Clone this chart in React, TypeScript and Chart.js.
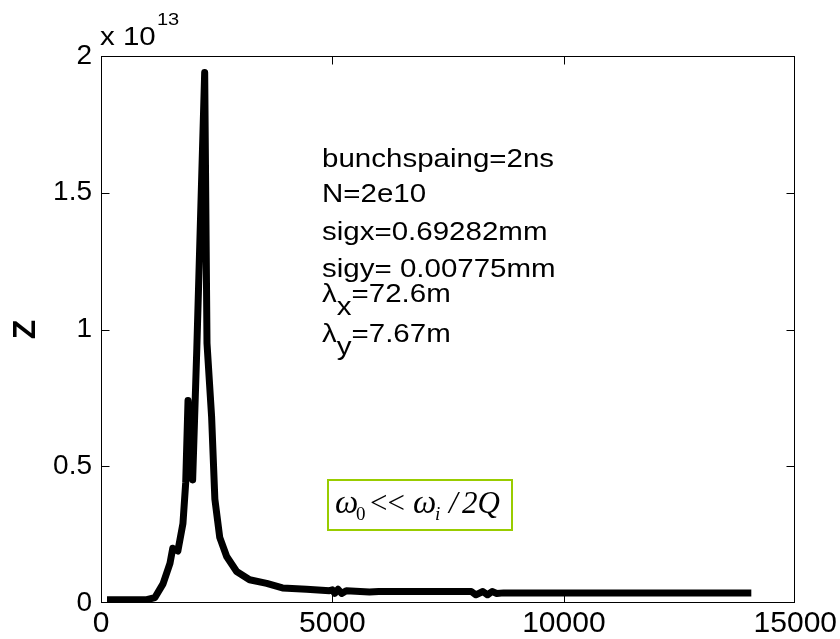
import React, { useEffect, useRef } from "react";
import { Chart, registerables } from "chart.js";

Chart.register(...registerables);

// x values (frequency-like index) and Z values in units of 1e13
const xValues = [
  130, 990, 1165, 1340, 1490, 1550, 1660, 1770, 1830, 1880, 1930, 1980, 2070, 2240, 2290, 2390,
  2460, 2565, 2715, 2930, 3210, 3580, 3920, 4440, 4935, 5000, 5050, 5120, 5200, 5300, 5800,
  6000, 8000, 8100, 8250, 8350, 8450, 8550, 8700, 14050,
];
const zValues = [
  0.012, 0.012, 0.02, 0.07, 0.145, 0.2, 0.19, 0.29, 0.44, 0.74, 0.6, 0.45, 0.93, 1.94, 0.95, 0.68,
  0.38, 0.24, 0.17, 0.115, 0.085, 0.072, 0.055, 0.05, 0.045, 0.048, 0.035, 0.05, 0.035, 0.045, 0.04,
  0.042, 0.042, 0.03, 0.042, 0.03, 0.042, 0.035, 0.037, 0.037,
];
const xTickValues = [0, 5000, 10000, 15000];
const xTickLabels = ["0", "5000", "10000", "15000"];
const yTickValues = [0, 0.5, 1, 1.5, 2];
const yTickLabels = ["0", "0.5", "1", "1.5", "2"];
const exponentBase = "x 10";
const exponentPower = "13";
const yTitle = "Z";
const infoLines = [
  { pre: "bunchspaing=2ns", sub: "", post: "" },
  { pre: "N=2e10", sub: "", post: "" },
  { pre: "sigx=0.69282mm", sub: "", post: "" },
  { pre: "sigy= 0.00775mm", sub: "", post: "" },
  { pre: "λ", sub: "x", post: "=72.6m" },
  { pre: "λ", sub: "y", post: "=7.67m" },
];
const infoBaselines = [167, 202, 240, 277, 302, 342];

const SANS = '"Liberation Sans", Arial, Helvetica, sans-serif';
const SERIF = '"Liberation Serif", "Times New Roman", serif';

const decorPlugin = {
  id: "decor",
  afterDatasetsDraw(chart: any) {
    const { ctx, chartArea: a, scales } = chart;
    ctx.save();
    ctx.strokeStyle = "#000";
    ctx.lineWidth = 1;
    const L = Math.round(a.left) + 0.5;
    const T = Math.round(a.top) + 0.5;
    const R = Math.round(a.right) - 0.5;
    const B = Math.round(a.bottom) - 0.5;
    ctx.strokeRect(L, T, R - L, B - T);
    const tl = 8;
    ctx.beginPath();
    for (const v of xTickValues) {
      const px = Math.round(scales.x.getPixelForValue(v)) + 0.5;
      if (v === 0 || v === 15000) continue;
      ctx.moveTo(px, B);
      ctx.lineTo(px, B - tl);
      ctx.moveTo(px, T);
      ctx.lineTo(px, T + tl);
    }
    for (const v of yTickValues) {
      const py = Math.round(scales.y.getPixelForValue(v)) + 0.5;
      if (v === 0 || v === 2) continue;
      ctx.moveTo(L, py);
      ctx.lineTo(L + tl, py);
      ctx.moveTo(R, py);
      ctx.lineTo(R - tl, py);
    }
    ctx.stroke();
    ctx.restore();
  },
  afterDraw(chart: any) {
    const { ctx, chartArea: a } = chart;
    ctx.save();
    ctx.fillStyle = "#000";

    // y title
    ctx.save();
    ctx.translate(26, (a.top + a.bottom) / 2);
    ctx.rotate(-Math.PI / 2);
    ctx.font = `bold 32px ${SANS}`;
    ctx.textAlign = "center";
    ctx.textBaseline = "middle";
    ctx.fillText(yTitle, 0, 0);
    ctx.restore();

    const sx = 1.18;
    // exponent
    ctx.save();
    ctx.textAlign = "left";
    ctx.textBaseline = "alphabetic";
    ctx.translate(100, 45);
    ctx.scale(sx, 1);
    ctx.font = `25px ${SANS}`;
    ctx.fillText(exponentBase, 0, 0);
    const w = ctx.measureText(exponentBase).width;
    ctx.font = `17px ${SANS}`;
    ctx.fillText(exponentPower, w + 1, -20);
    ctx.restore();

    // info text
    infoLines.forEach((ln, i) => {
      ctx.save();
      ctx.translate(322, infoBaselines[i]);
      ctx.scale(sx, 1);
      ctx.font = `25px ${SANS}`;
      ctx.textAlign = "left";
      ctx.textBaseline = "alphabetic";
      ctx.fillText(ln.pre, 0, 0);
      let x = ctx.measureText(ln.pre).width;
      if (ln.sub) {
        ctx.fillText(ln.sub, x, 13);
        x += ctx.measureText(ln.sub).width;
        ctx.fillText(ln.post, x, 0);
      }
      ctx.restore();
    });

    // formula box
    ctx.fillStyle = "#fff";
    ctx.fillRect(328, 480, 184, 50);
    ctx.strokeStyle = "#99cc00";
    ctx.lineWidth = 2;
    ctx.strokeRect(328, 480, 184, 50);
    ctx.fillStyle = "#000";
    ctx.textBaseline = "alphabetic";
    ctx.textAlign = "left";
    const base = 513;
    ctx.font = `italic 33px ${SERIF}`;
    ctx.fillText("ω", 335, base);
    ctx.font = `19px ${SERIF}`;
    ctx.fillText("0", 356, base + 7);
    ctx.font = `31px ${SERIF}`;
    ctx.fillText("<<", 370, base);
    ctx.font = `italic 33px ${SERIF}`;
    ctx.fillText("ω", 413, base);
    ctx.font = `italic 19px ${SERIF}`;
    ctx.fillText("i", 435, base + 7);
    ctx.font = `italic 31px ${SERIF}`;
    ctx.fillText("/", 449, base);
    ctx.fillText("2Q", 462, base);
    ctx.restore();
  },
};

export default function App() {
  const ref = useRef<HTMLCanvasElement | null>(null);
  useEffect(() => {
    if (!ref.current) return;
    const chart = new Chart(ref.current, {
      type: "scatter",
      data: {
        datasets: [
          {
            data: xValues.map((x, i) => ({ x, y: zValues[i] })),
            showLine: true,
            borderColor: "#000",
            backgroundColor: "#000",
            borderWidth: 7,
            borderJoinStyle: "round",
            pointRadius: 0,
            tension: 0,
          },
        ],
      },
      options: {
        responsive: false,
        animation: false,
        layout: { padding: { left: 0, top: 56, right: 43, bottom: 0 } },
        plugins: { legend: { display: false }, tooltip: { enabled: false } },
        scales: {
          x: {
            type: "linear",
            min: 0,
            max: 15000,
            afterBuildTicks: (s: any) => {
              s.ticks = xTickValues.map((v) => ({ value: v }));
            },
            ticks: {
              color: "#000",
              font: { size: 30, family: SANS },
              padding: 3,
              maxRotation: 0,
              autoSkip: false,
              callback: (v: any) => {
                const i = xTickValues.indexOf(Number(v));
                return i >= 0 ? xTickLabels[i] : "";
              },
            },
            grid: { display: false, drawTicks: false },
            border: { display: false },
            afterFit: (s: any) => {
              s.height = 36;
            },
          },
          y: {
            type: "linear",
            min: 0,
            max: 2,
            afterBuildTicks: (s: any) => {
              s.ticks = yTickValues.map((v) => ({ value: v }));
            },
            ticks: {
              color: "#000",
              font: { size: 28, family: SANS },
              padding: 9,
              callback: (v: any) => {
                const i = yTickValues.indexOf(Number(v));
                return i >= 0 ? yTickLabels[i] : "";
              },
            },
            grid: { display: false, drawTicks: false },
            border: { display: false },
            afterFit: (s: any) => {
              s.width = 101;
            },
          },
        },
      },
      plugins: [decorPlugin],
    } as any);
    return () => chart.destroy();
  }, []);
  return (
    <div style={{ position: "fixed", left: 0, top: 0, width: 840, height: 639, background: "#fff" }}>
      <canvas ref={ref} width={840} height={639} style={{ display: "block" }} />
    </div>
  );
}
